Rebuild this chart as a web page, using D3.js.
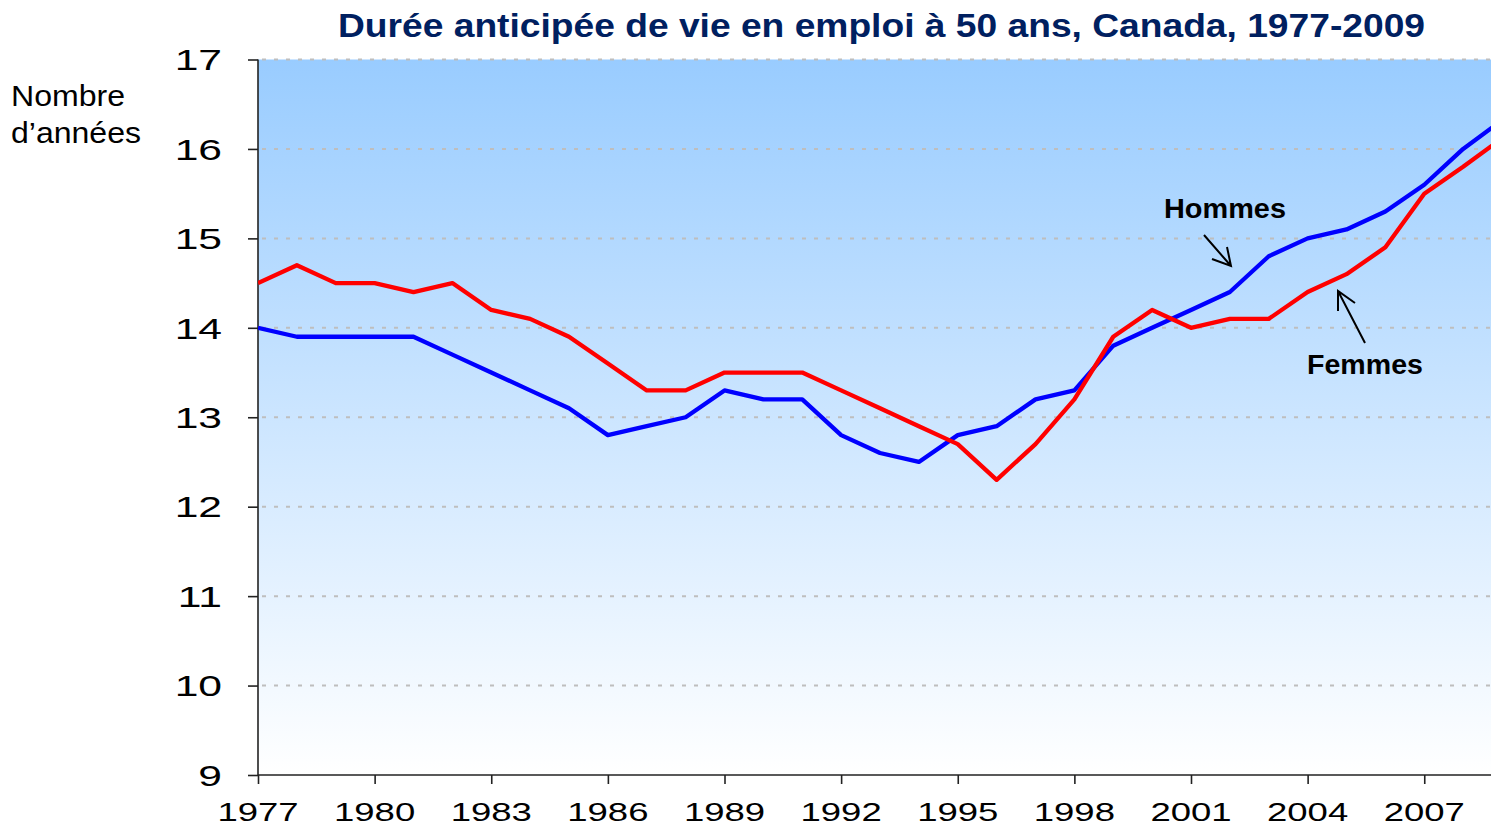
<!DOCTYPE html>
<html>
<head>
<meta charset="utf-8">
<script src="https://cdn.jsdelivr.net/npm/d3@7"></script>
<style>
html,body{margin:0;padding:0;background:#fff;}
svg{display:block;}
</style>
</head>
<body>
<script>
const years = d3.range(1977, 2010);
const hommes = [14.0,13.9,13.9,13.9,13.9,13.7,13.5,13.3,13.1,12.8,12.9,13.0,13.3,13.2,13.2,12.8,12.6,12.5,12.8,12.9,13.2,13.3,13.8,14.0,14.2,14.4,14.8,15.0,15.1,15.3,15.6,16.0,16.32];
const femmes = [14.5,14.7,14.5,14.5,14.4,14.5,14.2,14.1,13.9,13.6,13.3,13.3,13.5,13.5,13.5,13.3,13.1,12.9,12.7,12.3,12.7,13.2,13.9,14.2,14.0,14.1,14.1,14.4,14.6,14.9,15.5,15.8,16.12];
const yTicks = [9,10,11,12,13,14,15,16,17];
const xTicks = [1977,1980,1983,1986,1989,1992,1995,1998,2001,2004,2007];
const title = "Durée anticipée de vie en emploi à 50 ans, Canada, 1977-2009";

(function(){
const W = 1491, H = 827;
const FONT = "'Liberation Sans', Arial, Helvetica, sans-serif";
const svg = d3.select("body").append("svg").attr("width", W).attr("height", H);

const pL = 258, pR = 1502, pT = 59.5, pB = 775;
const x = d3.scaleLinear().domain([1977, 2009]).range([pL, pR]);
const y = d3.scaleLinear().domain([9, 17]).range([pB, pT]);

const defs = svg.append("defs");
const grad = defs.append("linearGradient").attr("id","bg").attr("x1",0).attr("y1",0).attr("x2",0).attr("y2",1);
grad.append("stop").attr("offset","0%").attr("stop-color","#99CCFF");
grad.append("stop").attr("offset","100%").attr("stop-color","#FFFFFF");
defs.append("clipPath").attr("id","clip").append("rect")
  .attr("x", pL).attr("y", pT - 5).attr("width", W - pL).attr("height", pB - pT + 10);

svg.append("rect").attr("x", pL).attr("y", pT).attr("width", W - pL).attr("height", pB - pT)
  .attr("fill","url(#bg)");

// gridlines
svg.append("g").selectAll("line").data(yTicks.filter(d => d > 9)).join("line")
  .attr("x1", pL + 4).attr("x2", W).attr("y1", d => y(d)).attr("y2", d => y(d))
  .attr("stroke","#BEBEBE").attr("stroke-width",2).attr("stroke-dasharray","4,8");

// axes
const yAxis = svg.append("g").attr("transform", `translate(${pL},0)`)
  .call(d3.axisLeft(y).tickValues(yTicks).tickSize(10).tickFormat(""));
yAxis.select(".domain").attr("stroke","#222").attr("stroke-width",1.6).attr("d", `M0,${pT}V${pB}`);
yAxis.selectAll(".tick line").attr("stroke","#222").attr("stroke-width",1.6);

const xAxis = svg.append("g").attr("transform", `translate(0,${pB})`)
  .call(d3.axisBottom(x).tickValues(xTicks).tickSize(9).tickFormat(""));
xAxis.select(".domain").attr("stroke","#222").attr("stroke-width",1.6).attr("d", `M${pL},0H${W}`);
xAxis.selectAll(".tick line").attr("stroke","#222").attr("stroke-width",1.6);

// tick labels (horizontally stretched as in the reference)
svg.append("g").selectAll("g").data(yTicks).join("g")
  .attr("transform", d => `translate(222,${y(d)}) scale(1.42,1)`)
  .append("text").attr("text-anchor","end").attr("dy","0.36em")
  .attr("font-family", FONT).attr("font-size", 30).attr("fill","#000").text(d => d);

svg.append("g").selectAll("g").data(xTicks).join("g")
  .attr("transform", d => `translate(${x(d)},821) scale(1.46,1)`)
  .append("text").attr("text-anchor","middle")
  .attr("font-family", FONT).attr("font-size", 25).attr("fill","#000").text(d => d);

// lines
const line = d3.line().x((d,i) => x(years[i])).y(d => y(d));
const g = svg.append("g").attr("clip-path","url(#clip)");
g.append("path").datum(hommes).attr("d", line).attr("fill","none")
  .attr("stroke","#0000FF").attr("stroke-width",4.3).attr("stroke-linejoin","round");
g.append("path").datum(femmes).attr("d", line).attr("fill","none")
  .attr("stroke","#FF0000").attr("stroke-width",4.3).attr("stroke-linejoin","round");

// title
svg.append("text").attr("x", 338).attr("y", 37).attr("textLength", 1087).attr("lengthAdjust","spacingAndGlyphs")
  .attr("font-family", FONT).attr("font-weight","bold").attr("font-size", 34).attr("fill","#002060").text(title);

// y axis title
const yt = svg.append("text").attr("font-family", FONT).attr("font-size", 29).attr("fill","#000");
yt.append("tspan").attr("x", 11).attr("y", 106).attr("textLength",114).attr("lengthAdjust","spacingAndGlyphs").text("Nombre");
yt.append("tspan").attr("x", 11).attr("y", 143).attr("textLength",130).attr("lengthAdjust","spacingAndGlyphs").text("d’années");

// annotations
svg.append("text").attr("x", 1164).attr("y", 218).attr("textLength",122).attr("lengthAdjust","spacingAndGlyphs")
  .attr("font-family", FONT).attr("font-weight","bold").attr("font-size", 28).attr("fill","#000").text("Hommes");
svg.append("text").attr("x", 1307).attr("y", 374).attr("textLength",116).attr("lengthAdjust","spacingAndGlyphs")
  .attr("font-family", FONT).attr("font-weight","bold").attr("font-size", 28).attr("fill","#000").text("Femmes");

const arrows = svg.append("g").attr("stroke","#000").attr("stroke-width",2).attr("fill","none");
arrows.append("path").attr("d","M1204,235L1231,266M1212,259L1231,266L1227,247");
arrows.append("path").attr("d","M1365,343L1338,291M1338,311L1338,291L1355,303");
})();
</script>
</body>
</html>
